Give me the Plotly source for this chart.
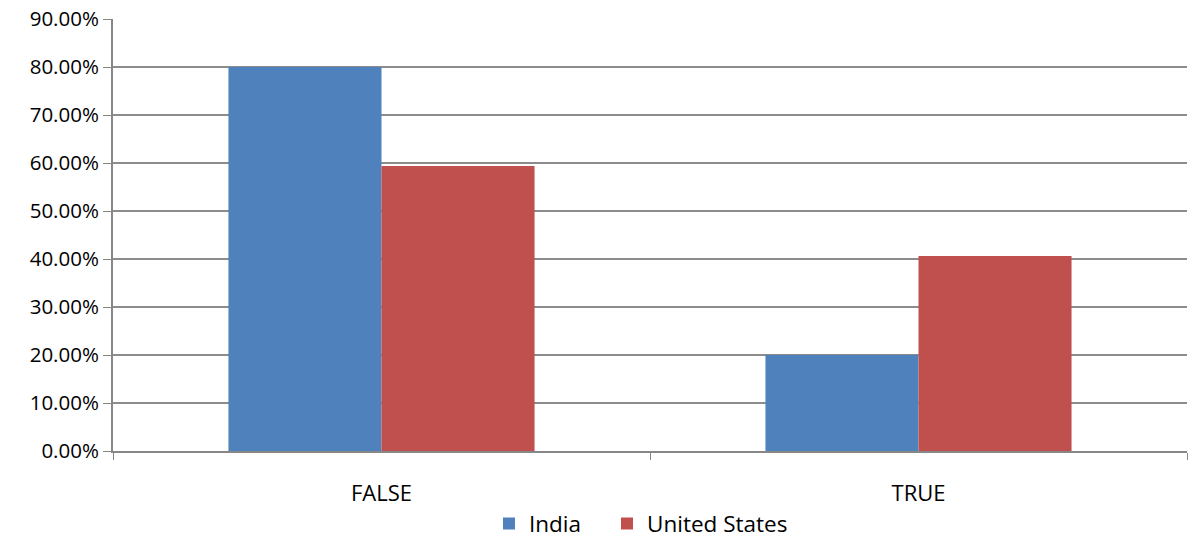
import plotly.graph_objects as go

categories = ["FALSE", "TRUE"]
india = [0.80, 0.20]
united_states = [0.594, 0.406]
y_ticks = [i / 10 for i in range(10)]
y_tick_labels = [f"{v*100:.2f}%" for v in y_ticks]

fig = go.Figure()
fig.add_trace(go.Bar(name="India", x=categories, y=india, legend="legend",
                     marker=dict(color="#4F81BD", line=dict(width=0))))
fig.add_trace(go.Bar(name="United States", x=categories, y=united_states, legend="legend2",
                     marker=dict(color="#C0504D", line=dict(width=0))))

font_family = "Open Sans, Liberation Sans, sans-serif"
legend_common = dict(orientation="h", xref="container", xanchor="left",
                     y=0.037, yref="container", yanchor="middle",
                     font=dict(size=22.5), itemwidth=30, bgcolor="rgba(0,0,0,0)")
fig.update_layout(
    width=1188, height=544,
    margin=dict(l=113, r=1, t=19, b=93, autoexpand=False),
    paper_bgcolor="white", plot_bgcolor="white",
    barmode="group", bargap=0.43, bargroupgap=0,
    font=dict(family=font_family, size=20, color="#000000"),
    showlegend=True,
    legend=dict(x=489 / 1188, **legend_common),
    legend2=dict(x=607 / 1188, **legend_common),
    xaxis=dict(showline=True, linecolor="#878787", linewidth=2, ticks="outside",
               tickson="boundaries", ticklen=7, tickcolor="#878787", tickwidth=1,
               showgrid=False, tickfont=dict(size=22), ticklabelstandoff=22,
               automargin=False),
    yaxis=dict(range=[0, 0.9], tickvals=y_ticks + [0.9], ticktext=y_tick_labels + ["90.00%"],
               showline=True, linecolor="#878787", linewidth=2, ticks="outside",
               ticklen=8, tickcolor="#878787", tickwidth=1,
               showgrid=True, gridcolor="#8C8C8C", gridwidth=2, zeroline=False,
               tickfont=dict(size=20.5), automargin=False),
)

fig.write_html("out.html")
